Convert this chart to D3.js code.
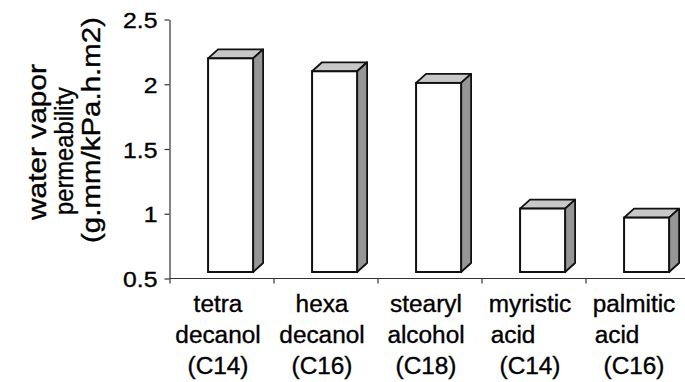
<!DOCTYPE html>
<html><head><meta charset="utf-8">
<script src="https://cdn.jsdelivr.net/npm/d3@7"></script>
<style>
body{margin:0;background:#fff}
text{font-family:"Liberation Sans",Arial,sans-serif;fill:#000;stroke:#000;stroke-width:0.35px}
</style>
</head><body><svg id="c" width="685" height="382"></svg>
<script>
// ---- data ----
const categories = ["tetra decanol (C14)", "hexa decanol (C16)", "stearyl alcohol (C18)", "myristic acid (C14)", "palmitic acid (C16)"];
const categoryLines = [
  ["tetra", "decanol", "(C14)"],
  ["hexa", "decanol", "(C16)"],
  ["stearyl", "alcohol", "(C18)"],
  ["myristic", "acid\u00a0\u00a0\u00a0\u00a0\u00a0", "(C14)"],
  ["palmitic", "acid\u00a0\u00a0\u00a0\u00a0\u00a0", "(C16)"]
];
const permeability = [2.15, 2.05, 1.96, 0.99, 0.92];
const yTicks = [0.5, 1, 1.5, 2, 2.5];
const yTickLabels = ["0.5", "1", "1.5", "2", "2.5"];
const yTitleLines = ["water vapor", "permeability", "(g.mm/kPa.h.m2)"];

// ---- drawing ----
const svg = d3.select("#c");
const y = d3.scaleLinear().domain([0.5, 2.5]).range([278.5, 19.5]);
const x = d3.scaleBand().domain(categories).range([170, 690]).padding(0);
const bw = x.bandwidth();
const axisX = 169.5;
const ink = "#111";

// y axis
const yAxis = d3.axisLeft(y).tickValues(yTicks)
  .tickFormat((d, i) => yTickLabels[i]).tickSize(5).tickSizeOuter(0).tickPadding(0);
const gy = svg.append("g").attr("transform", `translate(${axisX},0)`).call(yAxis);
gy.attr("font-size", null).attr("font-family", null);
gy.select(".domain").attr("stroke", "#333").attr("stroke-width", 1.2);
gy.selectAll(".tick line").attr("stroke", "#333").attr("stroke-width", 1.2);
gy.selectAll(".tick text")
  .attr("x", 0).attr("dy", "0.36em")
  .attr("transform", "translate(-12,0) scale(1.1,1)")
  .style("font-size", "22.5px").attr("fill", "#000");

// x axis line + boundary ticks
const base = y(0.5);
svg.append("line").attr("x1", axisX).attr("x2", 685).attr("y1", base).attr("y2", base)
  .attr("stroke", "#333").attr("stroke-width", 1.2);
svg.selectAll(".xtick").data(categories).join("line").attr("class", "xtick")
  .attr("x1", d => x(d)).attr("x2", d => x(d))
  .attr("y1", base).attr("y2", base + 5)
  .attr("stroke", "#333").attr("stroke-width", 1.2);

// 3D bars
const dx = 10, dy = 9, floor = 6.5;
const frontOff = 0.366 * bw, frontW = 0.433 * bw;
const bars = svg.selectAll(".bar").data(categories).join("g").attr("class", "bar");
bars.each(function (c, i) {
  const g = d3.select(this);
  const x0 = x(c) + frontOff, x1 = x0 + frontW;
  const yT = y(permeability[i]) - floor, yB = y(0.5) - floor;
  const pts = a => a.map(p => p.join(",")).join(" ");
  g.append("polygon")
    .attr("points", pts([[x0, yT], [x0 + dx, yT - dy], [x1 + dx, yT - dy], [x1, yT]]))
    .attr("fill", "#c8c8c8").attr("stroke", ink).attr("stroke-width", 1.8).attr("stroke-linejoin", "round");
  g.append("polygon")
    .attr("points", pts([[x1, yT], [x1 + dx, yT - dy], [x1 + dx, yB - dy], [x1, yB]]))
    .attr("fill", "#969696").attr("stroke", ink).attr("stroke-width", 1.8).attr("stroke-linejoin", "round");
  g.append("rect").attr("x", x0).attr("y", yT).attr("width", frontW).attr("height", yB - yT)
    .attr("fill", "#fff").attr("stroke", ink).attr("stroke-width", 2);
});

// category labels
const baselines = [312, 343, 374];
categories.forEach((c, i) => {
  const cx = x(c) + bw / 2 - 4;
  categoryLines[i].forEach((t, j) => {
    svg.append("text")
      .attr("transform", `translate(${cx},${baselines[j]}) scale(1.06,1)`)
      .attr("text-anchor", "middle").style("font-size", "23px")
      .style("white-space", "pre").text(t);
  });
});

// y title (stretched along the text direction to the lengths seen)
const titleX = [46, 73, 100], titleY = [142, 151, 130], titleLen = [156, 128, 226];
yTitleLines.forEach((t, j) => {
  const el = svg.append("text")
    .attr("text-anchor", "middle").style("font-size", "25px").text(t);
  const natural = el.node().getComputedTextLength();
  const sx = titleLen[j] / natural;
  el.attr("transform", `translate(${titleX[j]},${titleY[j]}) rotate(-90) scale(${sx},1)`);
});
</script></body></html>
